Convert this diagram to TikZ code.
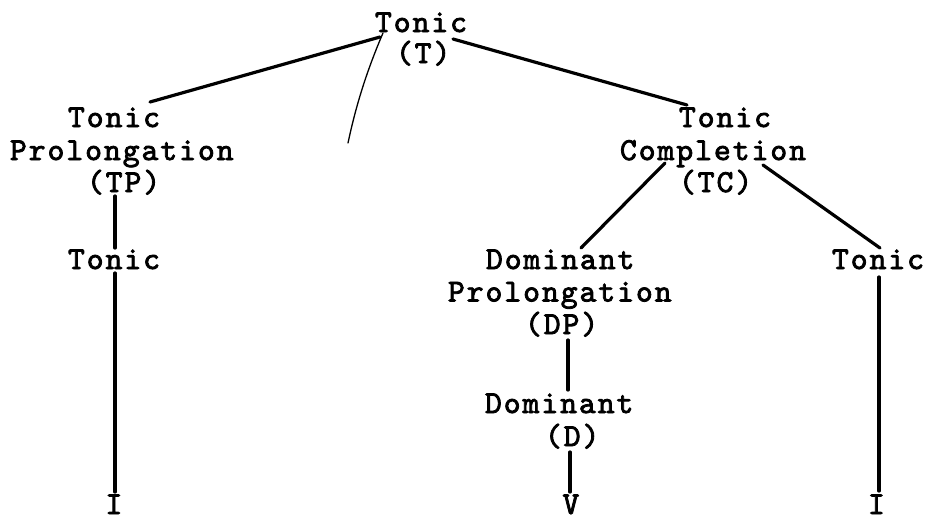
\documentclass[tikz,border=0pt]{standalone}
\usepackage{fontspec}
\newfontfamily\tw{lmmono10-regular.otf}[FakeBold=2.5,LetterSpace=6.25]
\begin{document}
\begin{tikzpicture}[x=1pt,y=1pt,
  lbl/.style={anchor=base west,inner sep=0pt,outer sep=0pt,font=\tw\fontsize{32}{32.5}\selectfont},
  edge/.style={line width=3.2pt,line cap=round},
  pen/.style={line width=1.3pt,line cap=round}]
\useasboundingbox[fill=white] (0,0) rectangle (927,-523);
% level 0
\node[lbl] (T1) at (375,-32) {Tonic};
\node[lbl] (T2) at (396,-63) {(T)};
% level 1 left
\node[lbl] (TP1) at (68,-127) {Tonic};
\node[lbl] (TP2) at (10,-160) {Prolongation};
\node[lbl] (TP3) at (87,-192) {(TP)};
% level 1 right
\node[lbl] (TC1) at (679,-127) {Tonic};
\node[lbl] (TC2) at (620,-160) {Completion};
\node[lbl] (TC3) at (679,-192) {(TC)};
% level 2
\node[lbl] (TL) at (68,-269) {Tonic};
\node[lbl] (DP1) at (486,-269) {Dominant};
\node[lbl] (DP2) at (448,-301.5) {Prolongation};
\node[lbl] (DP3) at (525,-334) {(DP)};
\node[lbl] (TR) at (832,-269) {Tonic};
% level 3
\node[lbl] (D1) at (485,-413) {Dominant};
\node[lbl] (D2) at (545,-446) {(D)};
% bottom
\node[lbl] (IL) at (105.5,-514) {I};
\node[lbl] (V) at (562.5,-514) {V};
\node[lbl] (IR) at (868,-514) {I};
% connectors
\draw[edge] ([shift={(5,-5)}]T1.base west) -- ([shift={(82,25)}]TP1.base west);
\draw[edge] ([shift={(78,-7)}]T1.base west) -- ([shift={(8,22)}]TC1.base west);
\draw[edge] ([shift={(28,-4)}]TP3.base west) -- ([shift={(47,21)}]TL.base west);
\draw[edge] ([shift={(47,-4)}]TL.base west) -- ([shift={(9.5,22)}]IL.base west);
\draw[edge] ([shift={(45,-3)}]TC2.base west) -- ([shift={(95,21)}]DP1.base west);
\draw[edge] ([shift={(143,-5)}]TC2.base west) -- ([shift={(48,21)}]TR.base west);
\draw[edge] ([shift={(43,-6)}]DP3.base west) -- ([shift={(83,23)}]D1.base west);
\draw[edge] ([shift={(25,-6)}]D2.base west) -- ([shift={(7.5,22)}]V.base west);
\draw[edge] ([shift={(47,-8)}]TR.base west) -- ([shift={(11,23)}]IR.base west);
% stray pen stroke
\coordinate (sq) at (348,-143);
\draw[pen] ([shift={(8,-1)}]T1.base west) .. controls (365,-75) and (355,-110) .. (sq);
\end{tikzpicture}
\end{document}
